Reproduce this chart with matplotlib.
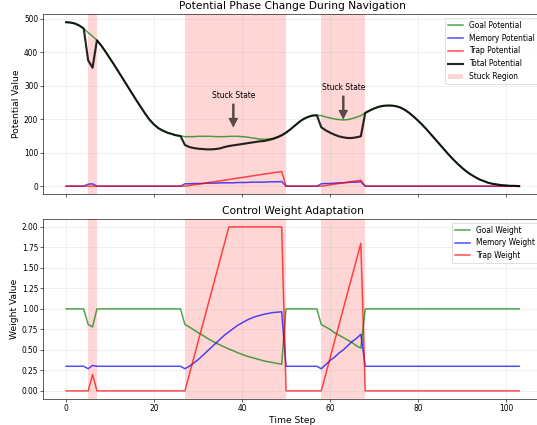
import numpy as np
import matplotlib
matplotlib.use("Agg")
import matplotlib.pyplot as plt

# time steps and stuck intervals
steps = np.arange(104)
stuck_starts = [5, 27, 58]
stuck_ends = [7, 50, 68]
arrow_steps = [38, 63]

goal_pot = [490, 489, 486, 480, 471, 459, 448, 436, 420, 401,
            381, 361, 340, 319, 298, 277, 256, 236, 216, 198,
            184, 173, 166, 160, 156, 152, 150, 148, 148, 148,
            149, 149, 149, 149, 148, 148, 148, 149, 149, 149,
            148, 147, 145, 143, 141, 140, 141, 143, 147, 152,
            160, 170, 181, 192, 201, 207, 211, 212, 211, 207,
            204, 201, 199, 198, 199, 202, 206, 211, 219, 226,
            232, 237, 240, 241, 241, 239, 235, 228, 219, 208,
            196, 183, 169, 154, 139, 124, 109, 94, 80, 67,
            55, 44, 35, 27, 20, 15, 10, 7, 5, 3,
            2, 1, 1, 0]

total_pot = [490, 489, 486, 480, 471, 376, 354, 436, 420, 401,
             381, 361, 340, 319, 298, 277, 256, 236, 216, 198,
             184, 173, 166, 160, 156, 152, 150, 123, 117, 114,
             112, 111, 110, 110, 111, 113, 117, 120, 122, 124,
             126, 128, 130, 132, 134, 135, 138, 141, 146, 152,
             160, 170, 181, 192, 201, 207, 211, 212, 176, 167,
             160, 154, 149, 146, 144, 144, 146, 149, 219, 226,
             232, 237, 240, 241, 241, 239, 235, 228, 219, 208,
             196, 183, 169, 154, 139, 124, 109, 94, 80, 67,
             55, 44, 35, 27, 20, 15, 10, 7, 5, 3,
             2, 1, 1, 0]

mem_pot = [0, 0, 0, 0, 0, 6, 7, 0, 0, 0,
           0, 0, 0, 0, 0, 0, 0, 0, 0, 0,
           0, 0, 0, 0, 0, 0, 0, 7, 7, 8,
           8, 8, 9, 9, 9, 10, 10, 10, 10, 11,
           11, 11, 12, 12, 12, 12, 13, 13, 13, 14,
           0, 0, 0, 0, 0, 0, 0, 0, 7, 8,
           8, 9, 10, 10, 11, 12, 12, 13, 0, 0,
           0, 0, 0, 0, 0, 0, 0, 0, 0, 0,
           0, 0, 0, 0, 0, 0, 0, 0, 0, 0,
           0, 0, 0, 0, 0, 0, 0, 0, 0, 0,
           0, 0, 0, 0]

trap_pot = [0, 0, 0, 0, 0, 0, 0, 0, 0, 0,
            0, 0, 0, 0, 0, 0, 0, 0, 0, 0,
            0, 0, 0, 0, 0, 0, 0, 0, 2, 4,
            6, 8, 10, 12, 14, 16, 18, 20, 22, 24,
            26, 28, 30, 32, 34, 36, 38, 40, 42, 44,
            0, 0, 0, 0, 0, 0, 0, 0, 0, 2,
            4, 6, 8, 10, 12, 14, 16, 18, 0, 0,
            0, 0, 0, 0, 0, 0, 0, 0, 0, 0,
            0, 0, 0, 0, 0, 0, 0, 0, 0, 0,
            0, 0, 0, 0, 0, 0, 0, 0, 0, 0,
            0, 0, 0, 0]

goal_w = [1, 1, 1, 1, 1, 0.81, 0.78, 1, 1, 1,
          1, 1, 1, 1, 1, 1, 1, 1, 1, 1,
          1, 1, 1, 1, 1, 1, 1, 0.81, 0.78, 0.745,
          0.71, 0.68, 0.645, 0.615, 0.585, 0.56, 0.535, 0.51, 0.49, 0.465,
          0.445, 0.425, 0.41, 0.395, 0.38, 0.365, 0.355, 0.345, 0.335, 0.325,
          1, 1, 1, 1, 1, 1, 1, 1, 0.81, 0.78,
          0.75, 0.71, 0.68, 0.65, 0.62, 0.59, 0.55, 0.52, 1, 1,
          1, 1, 1, 1, 1, 1, 1, 1, 1, 1,
          1, 1, 1, 1, 1, 1, 1, 1, 1, 1,
          1, 1, 1, 1, 1, 1, 1, 1, 1, 1,
          1, 1, 1, 1]

mem_w = [0.3, 0.3, 0.3, 0.3, 0.3, 0.27, 0.31, 0.3, 0.3, 0.3,
         0.3, 0.3, 0.3, 0.3, 0.3, 0.3, 0.3, 0.3, 0.3, 0.3,
         0.3, 0.3, 0.3, 0.3, 0.3, 0.3, 0.3, 0.27, 0.30, 0.34,
         0.38, 0.43, 0.48, 0.53, 0.58, 0.63, 0.68, 0.72, 0.76, 0.80,
         0.83, 0.86, 0.885, 0.905, 0.92, 0.935, 0.945, 0.955, 0.96, 0.965,
         0.3, 0.3, 0.3, 0.3, 0.3, 0.3, 0.3, 0.3, 0.27, 0.32,
         0.37, 0.41, 0.46, 0.50, 0.55, 0.60, 0.64, 0.69, 0.3, 0.3,
         0.3, 0.3, 0.3, 0.3, 0.3, 0.3, 0.3, 0.3, 0.3, 0.3,
         0.3, 0.3, 0.3, 0.3, 0.3, 0.3, 0.3, 0.3, 0.3, 0.3,
         0.3, 0.3, 0.3, 0.3, 0.3, 0.3, 0.3, 0.3, 0.3, 0.3,
         0.3, 0.3, 0.3, 0.3]

trap_w = [0, 0, 0, 0, 0, 0, 0.2, 0, 0, 0,
          0, 0, 0, 0, 0, 0, 0, 0, 0, 0,
          0, 0, 0, 0, 0, 0, 0, 0, 0.2, 0.4,
          0.6, 0.8, 1.0, 1.2, 1.4, 1.6, 1.8, 2.0, 2.0, 2.0,
          2.0, 2.0, 2.0, 2.0, 2.0, 2.0, 2.0, 2.0, 2.0, 2.0,
          0, 0, 0, 0, 0, 0, 0, 0, 0, 0.2,
          0.4, 0.6, 0.8, 1.0, 1.2, 1.4, 1.6, 1.8, 0, 0,
          0, 0, 0, 0, 0, 0, 0, 0, 0, 0,
          0, 0, 0, 0, 0, 0, 0, 0, 0, 0,
          0, 0, 0, 0, 0, 0, 0, 0, 0, 0,
          0, 0, 0, 0]

S = 0.545  # the whole picture is drawn at about half size
plt.rcParams.update({
    "axes.linewidth": 0.8 * S,
    "grid.linewidth": 0.8 * S,
    "xtick.major.width": 0.8 * S,
    "ytick.major.width": 0.8 * S,
    "xtick.major.size": 3.5 * S,
    "ytick.major.size": 3.5 * S,
    "xtick.major.pad": 3.5 * S,
    "ytick.major.pad": 3.5 * S,
    "axes.labelpad": 4 * S,
    "axes.titlepad": 6 * S,
    "legend.fontsize": 10 * S,
    "patch.linewidth": 1.0 * S,
})

fig, (ax1, ax2) = plt.subplots(2, 1, figsize=(5.37, 4.25), dpi=100, sharex=True)
fig.subplots_adjust(left=0.081, right=1.009, top=0.967, bottom=0.061, hspace=0.135)

# --- potentials ---
ax1.plot(steps, goal_pot, color="g", alpha=0.7, lw=2 * S, label="Goal Potential")
ax1.plot(steps, mem_pot, color="b", alpha=0.7, lw=2 * S, label="Memory Potential")
ax1.plot(steps, trap_pot, color="r", alpha=0.7, lw=2 * S, label="Trap Potential")
ax1.plot(steps, total_pot, color="k", alpha=0.85, lw=2.8 * S, label="Total Potential")
for i, (s, e) in enumerate(zip(stuck_starts, stuck_ends)):
    ax1.axvspan(s, e, color="red", alpha=0.16, lw=0,
                label="Stuck Region" if i == 0 else None)
for t in arrow_steps:
    ax1.annotate("Stuck State", xy=(t, total_pot[t] + 50), xytext=(t, total_pot[t] + 150),
                 ha="center", va="center", fontsize=10 * S,
                 arrowprops=dict(facecolor="black", edgecolor="black", alpha=0.65,
                                 lw=0.5 * S, shrink=0.05, width=2.6 * S,
                                 headwidth=12 * S, headlength=12 * S))
ax1.set_title("Potential Phase Change During Navigation", fontsize=14 * S)
ax1.set_ylabel("Potential Value", fontsize=12 * S)
ax1.grid(True, alpha=0.3)
ax1.legend(loc="upper right")

# --- weights ---
ax2.plot(steps, goal_w, color="g", alpha=0.7, lw=2 * S, label="Goal Weight")
ax2.plot(steps, mem_w, color="b", alpha=0.7, lw=2 * S, label="Memory Weight")
ax2.plot(steps, trap_w, color="r", alpha=0.7, lw=2 * S, label="Trap Weight")
for s, e in zip(stuck_starts, stuck_ends):
    ax2.axvspan(s, e, color="red", alpha=0.16, lw=0)
ax2.set_title("Control Weight Adaptation", fontsize=14 * S)
ax2.set_xlabel("Time Step", fontsize=12 * S)
ax2.set_ylabel("Weight Value", fontsize=12 * S)
ax2.set_yticks([0, 0.25, 0.5, 0.75, 1.0, 1.25, 1.5, 1.75, 2.0])
ax2.grid(True, alpha=0.3)
ax2.legend(loc="upper right")

for ax in (ax1, ax2):
    ax.tick_params(labelsize=10 * S)

plt.savefig("out.png", dpi=100)
